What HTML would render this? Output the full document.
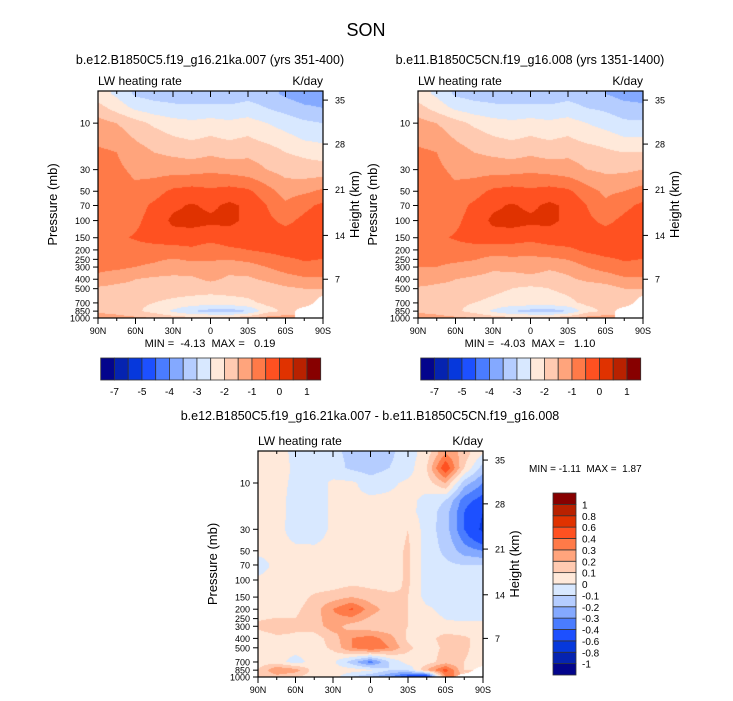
<!DOCTYPE html>
<html><head><meta charset="utf-8"><style>
body{margin:0;background:#fff;width:733px;height:701px;overflow:hidden;font-family:"Liberation Sans",sans-serif;}
#root{position:relative;width:733px;height:701px;}
canvas{position:absolute;}
svg{position:absolute;left:0;top:0;}
text{white-space:pre;}
</style></head><body>
<div id="root">
<canvas id="cA"></canvas>
<canvas id="cB"></canvas>
<canvas id="cD"></canvas>
<svg id="svg" width="733" height="701"></svg>
</div>
<script>
const lats=[90,75,60,45,30,15,0,-15,-30,-45,-60,-75,-90];
const pres=[5,7,10,15,20,30,50,70,100,150,200,300,400,500,700,850,1000];
const fieldA=[
[-2.3,-2.6,-3.1,-3.2,-3.2,-3.3,-3.3,-3.3,-3.2,-3.3,-3.6,-3.8,-3.8],
[-1.8,-2.2,-2.6,-2.8,-2.9,-2.9,-2.9,-2.9,-2.8,-3.0,-3.2,-3.4,-3.5],
[-1.3,-1.5,-1.8,-2.1,-2.3,-2.4,-2.3,-2.4,-2.3,-2.5,-2.7,-2.9,-3.0],
[-1.1,-1.2,-1.5,-1.7,-1.9,-2.0,-1.9,-2.0,-1.9,-2.1,-2.3,-2.5,-2.6],
[-0.9,-1.0,-1.3,-1.5,-1.6,-1.7,-1.6,-1.7,-1.6,-1.7,-2.0,-2.1,-2.2],
[-0.8,-0.9,-1.1,-1.2,-1.2,-1.2,-1.1,-1.2,-1.3,-1.5,-1.7,-1.8,-1.8],
[-0.7,-0.8,-0.9,-0.7,-0.4,-0.3,-0.4,-0.3,-0.4,-0.8,-1.2,-1.1,-0.9],
[-0.7,-0.8,-0.7,-0.4,-0.1,0.05,-0.1,0.1,-0.1,-0.5,-0.9,-0.6,-0.4],
[-0.7,-0.7,-0.6,-0.3,0.1,0.15,0.1,0.1,-0.1,-0.4,-0.6,-0.4,-0.3],
[-0.7,-0.6,-0.45,-0.3,-0.2,-0.2,-0.3,-0.2,-0.2,-0.3,-0.3,-0.3,-0.3],
[-0.8,-0.8,-0.7,-0.7,-0.7,-0.6,-0.8,-0.6,-0.5,-0.4,-0.3,-0.3,-0.4],
[-0.9,-0.9,-1.0,-1.1,-1.3,-1.2,-1.1,-1.3,-1.2,-1.0,-0.8,-0.6,-0.6],
[-1.1,-1.3,-1.5,-1.6,-1.6,-1.6,-1.4,-1.6,-1.6,-1.4,-1.2,-1.1,-1.1],
[-1.6,-1.7,-1.7,-1.8,-1.8,-1.8,-1.8,-1.8,-1.8,-1.8,-1.6,-1.5,-1.5],
[-1.7,-1.8,-1.9,-2.0,-2.1,-2.2,-2.3,-2.2,-2.1,-1.9,-1.8,-1.7,null],
[-1.6,-1.7,-1.9,-2.2,-2.6,-3.0,-3.2,-3.3,-3.0,-2.2,-1.9,null,null],
[-1.2,-1.3,-1.4,-1.5,-1.7,-1.8,-1.8,-1.8,-1.6,-1.3,-1.2,null,null]];
const fieldB=[
[-2.3,-2.6,-3.1,-3.2,-3.2,-3.3,-3.3,-3.3,-3.2,-3.3,-3.5,-3.7,-3.7],
[-1.8,-2.2,-2.6,-2.8,-2.9,-2.9,-2.9,-2.9,-2.8,-3.0,-3.1,-3.3,-3.4],
[-1.3,-1.5,-1.8,-2.1,-2.3,-2.4,-2.3,-2.4,-2.3,-2.5,-2.7,-2.9,-2.9],
[-1.1,-1.2,-1.5,-1.7,-1.9,-2.0,-1.9,-2.0,-1.9,-2.1,-2.2,-2.4,-2.4],
[-0.9,-1.0,-1.3,-1.5,-1.6,-1.7,-1.6,-1.7,-1.6,-1.7,-1.9,-2.0,-2.0],
[-0.8,-0.9,-1.1,-1.2,-1.2,-1.2,-1.1,-1.2,-1.3,-1.5,-1.6,-1.6,-1.5],
[-0.7,-0.8,-0.9,-0.7,-0.4,-0.3,-0.4,-0.3,-0.4,-0.8,-1.1,-1.0,-0.8],
[-0.7,-0.8,-0.7,-0.4,-0.1,0.05,-0.1,0.1,-0.1,-0.5,-0.9,-0.6,-0.4],
[-0.7,-0.7,-0.6,-0.3,0.1,0.15,0.1,0.1,-0.1,-0.4,-0.6,-0.4,-0.3],
[-0.7,-0.6,-0.45,-0.3,-0.2,-0.2,-0.3,-0.2,-0.2,-0.3,-0.3,-0.3,-0.3],
[-0.8,-0.8,-0.7,-0.7,-0.8,-0.8,-0.9,-0.7,-0.6,-0.4,-0.3,-0.3,-0.4],
[-1.0,-1.0,-1.1,-1.2,-1.4,-1.3,-1.2,-1.4,-1.3,-1.0,-0.8,-0.6,-0.6],
[-1.1,-1.3,-1.5,-1.6,-1.7,-1.8,-1.7,-1.8,-1.6,-1.4,-1.3,-1.1,-1.1],
[-1.6,-1.7,-1.7,-1.8,-1.9,-2.0,-2.1,-2.0,-1.9,-1.8,-1.7,-1.5,-1.5],
[-1.7,-1.8,-1.9,-2.0,-2.1,-2.2,-2.2,-2.2,-2.1,-1.9,-1.8,-1.7,null],
[-1.6,-1.7,-1.9,-2.2,-2.6,-3.0,-3.2,-3.3,-3.0,-2.2,-1.9,null,null],
[-1.2,-1.3,-1.4,-1.5,-1.7,-1.8,-1.8,-1.8,-1.6,-1.3,-1.2,null,null]];
const fieldDiff=[
[0.05,0.05,-0.03,-0.08,-0.08,-0.12,-0.15,-0.12,-0.05,0.05,0.3,0.15,0.0],
[0.05,0.05,-0.02,-0.06,-0.06,-0.12,-0.15,-0.1,-0.05,0.1,0.5,0.1,-0.15],
[0.05,0.03,-0.02,-0.05,0.02,0.02,-0.05,-0.02,0.02,0.05,0.2,-0.15,-0.3],
[0.05,0.03,-0.03,-0.05,0.02,0.02,0.02,0.02,0.03,-0.03,-0.1,-0.35,-0.45],
[0.05,0.03,-0.03,-0.05,0.02,0.02,0.02,0.02,0.03,-0.04,-0.15,-0.4,-0.6],
[0.05,0.03,-0.04,-0.05,0.02,0.03,0.03,0.03,0.1,-0.05,-0.15,-0.4,-0.65],
[0.03,0.03,0.02,0.02,0.03,0.03,0.03,0.04,0.12,-0.05,-0.12,-0.25,-0.3],
[-0.05,0.03,0.02,0.02,0.02,0.0,0.0,0.04,0.12,-0.05,-0.08,-0.1,-0.1],
[0.02,0.03,0.02,0.02,0.03,0.05,0.05,0.05,0.12,-0.05,-0.05,-0.05,-0.05],
[0.03,0.05,0.05,0.12,0.15,0.2,0.15,0.12,0.1,-0.04,-0.05,-0.05,-0.05],
[0.05,0.05,0.08,0.15,0.3,0.42,0.25,0.15,0.1,0.02,-0.03,-0.05,-0.05],
[0.12,0.15,0.12,0.15,0.25,0.15,0.12,0.12,0.1,0.05,0.02,0.02,0.02],
[0.05,0.08,0.08,0.05,0.15,0.3,0.35,0.25,0.08,0.05,0.15,0.12,0.05],
[0.05,0.05,0.05,0.05,0.12,0.3,0.4,0.3,0.12,0.05,0.12,0.12,0.05],
[0.05,0.05,-0.05,0.05,0.02,-0.15,-0.35,-0.1,0.05,0.05,0.15,0.1,0.05],
[0.1,0.3,0.25,0.05,0.05,0.05,0.02,-0.1,-0.1,0.2,0.45,0.1,null],
[0.1,0.15,0.1,0.05,0.05,-0.1,-0.2,-0.3,-0.5,-0.6,0.3,null,null]];
const levelsTop=[-7,-6,-5,-4.5,-4,-3.5,-3,-2.5,-2,-1.5,-1,-0.5,0,0.5,1];
const levelsDiff=[-1,-0.8,-0.6,-0.4,-0.3,-0.2,-0.1,0,0.1,0.2,0.3,0.4,0.6,0.8,1];
const palette=["#03058c","#0523b0","#0638dc","#1d50ff","#4a7cff","#84a9ff","#b5cdff","#d8e8ff","#ffe9da","#ffcab1","#ffa47c","#ff7a48","#ff5121","#e03200","#b82100","#870000"];
const xTickLats=[90,60,30,0,-30,-60,-90];
const xTickLabels=["90N","60N","30N","0","30S","60S","90S"];
const pTicks=[10,30,50,70,100,150,200,250,300,400,500,700,850,1000];
const hTicks=["35","28","21","14","7"];
const hTickPres=[5.8,16.4,48,142,400];
const LP0=0.67,LP1=3.0;

const svg=document.getElementById('svg');
const NS="http://www.w3.org/2000/svg";
function mk(tag,attrs,name,parent){const e=document.createElementNS(NS,tag);for(const k in attrs)e.setAttribute(k,attrs[k]);


(parent||svg).appendChild(e);return e;}
function txt(x,y,s,size,anchor,name,extra){const t=mk('text',Object.assign({x:x,y:y,'font-size':size,'text-anchor':anchor||'middle','font-family':'"Liberation Sans",sans-serif',fill:'#000'},extra||{}),name);t.textContent=s;return t;}
function hex(c){return [parseInt(c.slice(1,3),16),parseInt(c.slice(3,5),16),parseInt(c.slice(5,7),16)];}
const pal=palette.map(hex);
function colorIdx(v,lev){let i=0;while(i<lev.length&&v>=lev[i])i++;return i;}
const lpr=pres.map(p=>Math.log10(p));
function sample(field,lat,lp){
  let fi=(90-lat)/15; fi=Math.max(0,Math.min(11.9999,fi));
  const i=Math.floor(fi),a=fi-i;
  lp=Math.max(lpr[0],Math.min(lpr[lpr.length-1],lp));
  let j=0;while(j<lpr.length-2&&lp>lpr[j+1])j++;
  const b=(lp-lpr[j])/(lpr[j+1]-lpr[j]);
  const c=[[field[j][i],(1-a)*(1-b)],[field[j][i+1],a*(1-b)],[field[j+1][i],(1-a)*b],[field[j+1][i+1],a*b]];
  let s=0,w=0,wn=0;for(const [v,ww] of c){if(v===null)wn+=ww;else{s+=v*ww;w+=ww;}}
  if(wn>0.5)return null;return s/w;}
function drawField(id,field,lev,x0,y0,w,h){
  const cv=document.getElementById(id);cv.width=w;cv.height=h;cv.style.left=x0+'px';cv.style.top=y0+'px';
  const ctx=cv.getContext('2d');const img=ctx.createImageData(w,h);
  for(let py=0;py<h;py++)for(let px=0;px<w;px++){
    const lat=90-(px+0.5)/w*180,lp=LP0+(py+0.5)/h*(LP1-LP0);
    const v=sample(field,lat,lp);const k=(py*w+px)*4;
    const c=v===null?[255,255,255]:pal[colorIdx(v,lev)];
    img.data[k]=c[0];img.data[k+1]=c[1];img.data[k+2]=c[2];img.data[k+3]=255;}
  ctx.putImageData(img,0,0);}
function axes(pfx,x0,y0,w,h,xlabY){
  const xOf=lat=>x0+(90-lat)/180*w, yOf=p=>y0+(Math.log10(p)-LP0)/(LP1-LP0)*h;
  mk('rect',{x:x0,y:y0,width:w,height:h,fill:'none',stroke:'#000','stroke-width':1.2},pfx+'-frame');
  for(let lat=90;lat>=-90;lat-=15){const x=xOf(lat),L=(lat%30===0)?6:3;
    mk('line',{x1:x,y1:y0,x2:x,y2:y0+L,stroke:'#000','stroke-width':1},pfx+'-top-tick');
    mk('line',{x1:x,y1:y0+h,x2:x,y2:y0+h+L,stroke:'#000','stroke-width':1},pfx+'-x-tick');}
  xTickLats.forEach((lat,i)=>txt(xOf(lat),xlabY,xTickLabels[i],9,'middle',pfx+'-x-tick-label'));
  pTicks.forEach(p=>{const y=yOf(p);mk('line',{x1:x0-5,y1:y,x2:x0,y2:y,stroke:'#000','stroke-width':1},pfx+'-y-tick');
    txt(x0-8,y+3.5,String(p),9,'end',pfx+'-y-tick-label');});
  hTickPres.forEach((p,i)=>{const y=yOf(p);mk('line',{x1:x0+w,y1:y,x2:x0+w+5,y2:y,stroke:'#000','stroke-width':1},pfx+'-height-tick');
    txt(x0+w+12,y+3.5,hTicks[i],9,'start',pfx+'-height-tick-label');});
  txt(x0,y0-6,'LW heating rate',12,'start',pfx+'-variable-label');
  txt(x0+w,y0-6,'K/day',12,'end',pfx+'-units-label');
  txt(0,0,'Pressure (mb)',13,'middle',pfx+'-y-axis-title',{transform:`translate(${x0-41},${y0+h/2}) rotate(-90)`});
  txt(0,0,'Height (km)',13,'middle',pfx+'-height-axis-title',{transform:`translate(${x0+w+36},${y0+h/2}) rotate(-90)`});
}
function hbar(pfx,x0,y0,w,h){const n=palette.length,bw=w/n;
  palette.forEach((c,i)=>mk('rect',{x:x0+i*bw,y:y0,width:bw,height:h,fill:c,stroke:'#333','stroke-width':0.8},pfx+'-colorbar-box'));
  for(let k=0;k<levelsTop.length;k+=2)txt(x0+(k+1)*bw,y0+h+15,String(levelsTop[k]),10,'middle',pfx+'-colorbar-label');}

txt(366,36,'SON',18,'middle','figure-title');
drawField('cA',fieldA,levelsTop,98,91,225,227);
txt(210,64,'b.e12.B1850C5.f19_g16.21ka.007 (yrs 351-400)',12.5,'middle','left-panel-title');
axes('left',98,91,225,227,334);
txt(210,347,'MIN =  -4.13  MAX =   0.19',11,'middle','left-min-max');
hbar('left',100.7,358,220,22);
drawField('cB',fieldB,levelsTop,418,91,225,227);
txt(530,64,'b.e11.B1850C5CN.f19_g16.008 (yrs 1351-1400)',12.5,'middle','right-panel-title');
axes('right',418,91,225,227,334);
txt(530,347,'MIN =  -4.03  MAX =   1.10',11,'middle','right-min-max');
hbar('right',420.7,358,220,22);
drawField('cD',fieldDiff,levelsDiff,258,451,225,226);
txt(370,420,'b.e12.B1850C5.f19_g16.21ka.007 - b.e11.B1850C5CN.f19_g16.008',12.5,'middle','difference-panel-title');
axes('diff',258,451,225,226,693);
txt(529,472,'MIN = -1.11  MAX =  1.87',10,'start','diff-min-max');
(function(){const x0=553,y0=493,w=23,h=182,n=palette.length,bh=h/n;
  for(let i=0;i<n;i++)mk('rect',{x:x0,y:y0+(n-1-i)*bh,width:w,height:bh,fill:palette[i],stroke:'#333','stroke-width':0.8},'diff-colorbar-box');
  for(let k=0;k<levelsDiff.length;k++)txt(x0+w+6,y0+(n-1-k)*bh+4,String(levelsDiff[k]),10,'start','diff-colorbar-label');})();
</script>
</body></html>
